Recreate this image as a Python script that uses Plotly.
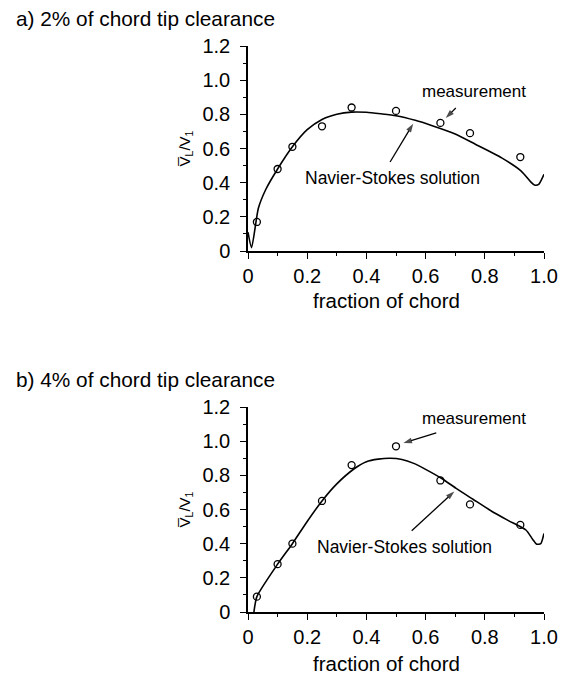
import plotly.graph_objects as go
from plotly.subplots import make_subplots

# ---- data ----
# panel a) 2% tip clearance
a_meas_x = [0.03, 0.10, 0.15, 0.25, 0.35, 0.50, 0.65, 0.75, 0.92]
a_meas_y = [0.17, 0.48, 0.61, 0.73, 0.84, 0.82, 0.75, 0.69, 0.55]
a_ns_x = [0.0, 0.012, 0.035, 0.06, 0.10, 0.15, 0.20, 0.25, 0.30, 0.35, 0.40, 0.45, 0.50, 0.565, 0.62, 0.70, 0.768, 0.857, 0.923, 0.955, 0.968, 0.982, 1.0]
a_ns_y = [0.11, 0.02, 0.25, 0.36, 0.48, 0.61, 0.71, 0.77, 0.80, 0.813, 0.812, 0.803, 0.792, 0.765, 0.735, 0.685, 0.625, 0.545, 0.468, 0.405, 0.386, 0.39, 0.449]

# panel b) 4% tip clearance
b_meas_x = [0.03, 0.10, 0.15, 0.25, 0.35, 0.50, 0.65, 0.75, 0.92]
b_meas_y = [0.09, 0.28, 0.40, 0.65, 0.86, 0.97, 0.77, 0.63, 0.51]
b_ns_x = [0.02, 0.03, 0.10, 0.15, 0.20, 0.25, 0.30, 0.36, 0.40, 0.44, 0.48, 0.52, 0.56, 0.60, 0.656, 0.702, 0.76, 0.823, 0.88, 0.939, 0.962, 0.975, 0.989, 1.0]
b_ns_y = [0.0, 0.09, 0.28, 0.40, 0.53, 0.65, 0.75, 0.84, 0.88, 0.895, 0.90, 0.893, 0.87, 0.835, 0.78, 0.725, 0.66, 0.59, 0.535, 0.48, 0.425, 0.397, 0.40, 0.46]

x_tickvals = [0, 0.2, 0.4, 0.6, 0.8, 1.0]
x_ticktext = ["0", "0.2", "0.4", "0.6", "0.8", "1.0"]
x_minor = [0.1, 0.3, 0.5, 0.7, 0.9]
y_tickvals = [0, 0.2, 0.4, 0.6, 0.8, 1.0, 1.2]
y_ticktext = ["0", "0.2", "0.4", "0.6", "0.8", "1.0", "1.2"]
y_minor = [0.1, 0.3, 0.5, 0.7, 0.9, 1.1]

titles = ["a) 2% of chord tip clearance", "b) 4% of chord tip clearance"]
x_label = "fraction of chord"
y_label = "V\u0305<sub>L</sub>/V<sub>1</sub>"
meas_label = "measurement"
ns_label = "Navier-Stokes solution"

# label positions and arrow (tail -> head) in data coordinates, per panel
a_meas_text = (0.765, 0.931)
a_meas_arrow_x = [0.702, 0.668]
a_meas_arrow_y = [0.837, 0.778]
a_ns_text = (0.487, 0.427)
a_ns_arrow_x = [0.48, 0.558]
a_ns_arrow_y = [0.521, 0.745]
b_meas_text = (0.765, 1.13)
b_meas_arrow_x = [0.636, 0.525]
b_meas_arrow_y = [1.048, 0.99]
b_ns_text = (0.53, 0.38)
b_ns_arrow_x = [0.553, 0.697]
b_ns_arrow_y = [0.476, 0.705]

FONT = "Liberation Sans, Arial, Helvetica, sans-serif"

W, H = 570, 678
L, R, T, B = 248, 19, 46, 66
pw, ph = W - L - R, H - T - B

def px2paper_x(px):
    return (px - L) / pw

def px2paper_y(py):
    return (H - B - py) / ph

fig = make_subplots(rows=2, cols=1)

panels = [
    (a_meas_x, a_meas_y, a_ns_x, a_ns_y, a_meas_text, a_meas_arrow_x, a_meas_arrow_y,
     a_ns_text, a_ns_arrow_x, a_ns_arrow_y),
    (b_meas_x, b_meas_y, b_ns_x, b_ns_y, b_meas_text, b_meas_arrow_x, b_meas_arrow_y,
     b_ns_text, b_ns_arrow_x, b_ns_arrow_y),
]
ann = []
for i, (mx, my, nx, ny, mt, max_, may, nt, nax, nay) in enumerate(panels, start=1):
    fig.add_trace(go.Scatter(x=nx, y=ny, mode="lines",
                             line=dict(color="black", width=1.6, shape="spline", smoothing=0.6),
                             showlegend=False), row=i, col=1)
    fig.add_trace(go.Scatter(x=mx, y=my, mode="markers",
                             marker=dict(symbol="circle-open", size=7,
                                         color="black", line=dict(width=1.3)),
                             showlegend=False), row=i, col=1)
    for axx, axy in [(max_, may), (nax, nay)]:
        fig.add_trace(go.Scatter(x=axx, y=axy, mode="lines+markers",
                                 line=dict(color="black", width=1.3),
                                 marker=dict(symbol="arrow", size=[0, 9], angleref="previous",
                                             color="black", line=dict(width=0)),
                                 showlegend=False), row=i, col=1)
    xr = "x" if i == 1 else "x2"
    yr = "y" if i == 1 else "y2"
    ann.append(dict(text=meas_label, xref=xr, yref=yr, x=mt[0], y=mt[1], showarrow=False,
                    font=dict(family=FONT, size=17, color="black")))
    ann.append(dict(text=ns_label, xref=xr, yref=yr, x=nt[0], y=nt[1], showarrow=False,
                    font=dict(family=FONT, size=17.5, color="black")))

top_a, bot_a = 46, 251
top_b, bot_b = 407, 612
fig.update_layout(
    yaxis=dict(domain=[px2paper_y(bot_a), px2paper_y(top_a)]),
    yaxis2=dict(domain=[px2paper_y(bot_b), px2paper_y(top_b)]),
)
for ax in ["xaxis", "xaxis2"]:
    fig.layout[ax].update(domain=[0, 1])

fig.update_xaxes(range=[0, 1.0], tickmode="array", tickvals=x_tickvals, ticktext=x_ticktext,
                 ticks="outside", ticklen=6, tickwidth=1.3, tickcolor="black",
                 showline=True, linecolor="black", linewidth=1.5, showgrid=False, zeroline=False,
                 tickfont=dict(family=FONT, size=20, color="black"),
                 minor=dict(tickmode="array", tickvals=x_minor, ticks="outside", ticklen=3,
                            tickcolor="black", tickwidth=1.1, showgrid=False))
fig.update_yaxes(range=[0, 1.2], tickmode="array", tickvals=y_tickvals, ticktext=y_ticktext,
                 ticks="outside", ticklen=6, tickwidth=1.3, tickcolor="black",
                 showline=True, linecolor="black", linewidth=1.5, showgrid=False, zeroline=False,
                 tickfont=dict(family=FONT, size=20, color="black"), ticklabelstandoff=6,
                 title=dict(text=y_label, standoff=8, font=dict(family=FONT, size=15, color="black")),
                 minor=dict(tickmode="array", tickvals=y_minor, ticks="outside", ticklen=3,
                            tickcolor="black", tickwidth=1.1, showgrid=False))

for t, py in zip(titles, [18, 379]):
    ann.append(dict(text=t, xref="paper", yref="paper", x=px2paper_x(8), y=px2paper_y(py),
                    xanchor="left", yanchor="middle", showarrow=False,
                    font=dict(family=FONT, size=20.8, color="black")))
for py in [300, 663]:
    ann.append(dict(text=x_label, xref="paper", yref="paper", x=px2paper_x(390), y=px2paper_y(py),
                    xanchor="center", yanchor="middle", showarrow=False,
                    font=dict(family=FONT, size=20.5, color="black")))

fig.update_layout(
    width=W, height=H, margin=dict(l=L, r=R, t=T, b=B),
    paper_bgcolor="white", plot_bgcolor="white",
    annotations=ann, showlegend=False,
    font=dict(family=FONT, color="black"),
)

fig.write_html("out.html")
